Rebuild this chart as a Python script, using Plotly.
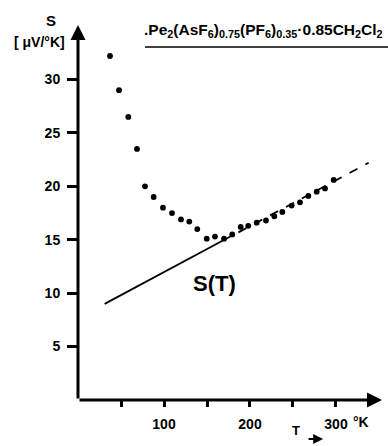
import plotly.graph_objects as go

# Measured thermopower data
T_data = [37.2, 47.7, 58.5, 68.6, 77.9, 88.0, 98.8, 109.3, 119.8, 129.4, 138.7,
          149.7, 159.3, 169.8, 179.4, 189.2, 198.0, 207.8, 218.6, 228.3, 237.6,
          248.5, 258.1, 267.8, 277.6, 287.2, 297.3]
S_data = [32.2, 29.0, 26.5, 23.5, 20.0, 19.0, 18.0, 17.5, 16.9, 16.7, 16.0,
          15.1, 15.3, 15.1, 15.5, 16.2, 16.3, 16.6, 16.8, 17.2, 17.6,
          18.2, 18.5, 19.1, 19.5, 19.8, 20.6]

# Linear S(T) fit: solid part and dashed extension
fit_T_solid = [31, 168]
fit_S_solid = [9.0, 14.9]
fit_T_dash = [168, 338]
fit_S_dash = [14.9, 22.2]

x_tickvals = [50, 100, 150, 200, 250, 300]
x_ticktext = ["", "100", "", "200", "", "300"]
y_tickvals = [5, 10, 15, 20, 25, 30]
y_ticktext = ["5", "10", "15", "20", "25", "30"]

FONT = "Liberation Sans"
XMAX = 353.5
YMAX = 35.1

fig = go.Figure()
fig.add_trace(go.Scatter(x=fit_T_solid, y=fit_S_solid, mode="lines",
                         line=dict(color="black", width=1.8), hoverinfo="skip"))
fig.add_trace(go.Scatter(x=fit_T_dash, y=fit_S_dash, mode="lines",
                         line=dict(color="black", width=1.8, dash="dash"), hoverinfo="skip"))
fig.add_trace(go.Scatter(x=T_data, y=S_data, mode="markers",
                         marker=dict(color="black", size=5.8)))

fig.update_layout(
    width=388, height=446,
    margin=dict(l=78, r=6, t=25, b=46, autoexpand=False),
    paper_bgcolor="white", plot_bgcolor="white",
    showlegend=False,
    font=dict(family=FONT, color="black"),
)
fig.update_xaxes(range=[0, XMAX], showgrid=False, zeroline=False,
                 showline=False, automargin=False,
                 tickmode="array", tickvals=x_tickvals, ticktext=x_ticktext,
                 ticks="outside", ticklen=6, tickwidth=2.5, tickcolor="black",
                 tickfont=dict(family=FONT, size=14, weight="bold", color="black"),
                 ticklabelstandoff=5)
fig.update_yaxes(range=[0, YMAX], showgrid=False, zeroline=False,
                 showline=False, automargin=False,
                 tickmode="array", tickvals=y_tickvals, ticktext=y_ticktext,
                 ticks="outside", ticklen=10, tickwidth=2.5, tickcolor="black",
                 tickfont=dict(family=FONT, size=14, weight="bold", color="black"),
                 ticklabelstandoff=4)

# axes with arrowheads
fig.add_annotation(x=XMAX, y=0, ax=0, ay=0, xref="x", yref="y", axref="x", ayref="y",
                   showarrow=True, arrowhead=2, arrowsize=1.0, arrowwidth=3, arrowcolor="black", text="")
fig.add_annotation(x=0, y=YMAX, ax=0, ay=0, xref="x", yref="y", axref="x", ayref="y",
                   showarrow=True, arrowhead=2, arrowsize=1.0, arrowwidth=3, arrowcolor="black", text="")

# labels
fig.add_annotation(x=0, y=YMAX, xref="x", yref="y", text="<b>S</b>", showarrow=False,
                   xshift=-27, yshift=5, font=dict(family=FONT, size=15))
fig.add_annotation(x=0, y=YMAX, xref="x", yref="y", text="<b>[ μV/°K]</b>", showarrow=False,
                   xshift=-39, yshift=-17, font=dict(family=FONT, size=14))
fig.add_annotation(x=329, y=0, xref="x", yref="y", text="<b>°K</b>", showarrow=False,
                   yshift=-22, font=dict(family=FONT, size=14))
fig.add_annotation(x=253.5, y=0, xref="x", yref="paper", text="<b>T</b>",
                   showarrow=False, yshift=-39, borderpad=0, font=dict(family=FONT, size=13))
fig.add_annotation(x=285, y=0, xref="x", yref="paper", ax=-16, ay=0, text="",
                   yshift=-39, showarrow=True, arrowhead=2, arrowsize=0.9, arrowwidth=2.2,
                   arrowcolor="black")
fig.add_annotation(x=159, y=10.9, xref="x", yref="y", text="<b>S(T)</b>", showarrow=False,
                   font=dict(family=FONT, size=22))
fig.add_annotation(x=(142 - 78) / 0.86, y=YMAX, xref="x", yref="y", xanchor="left",
                   text="<b>.Pe<sub>2</sub>(AsF<sub>6</sub>)<sub>0.75</sub>(PF<sub>6</sub>)<sub>0.35</sub>·0.85CH<sub>2</sub>Cl<sub>2</sub></b>",
                   showarrow=False, yshift=-5, font=dict(family=FONT, size=15.5))
fig.add_shape(type="line", xref="paper", yref="y", x0=(145 - 78) / 304, x1=1.02,
              y0=YMAX - 2.05, y1=YMAX - 2.05, line=dict(color="black", width=1.5))

fig.write_html("out.html", config={"displayModeBar": False},
               post_script="document.body.style.margin='0px';")
